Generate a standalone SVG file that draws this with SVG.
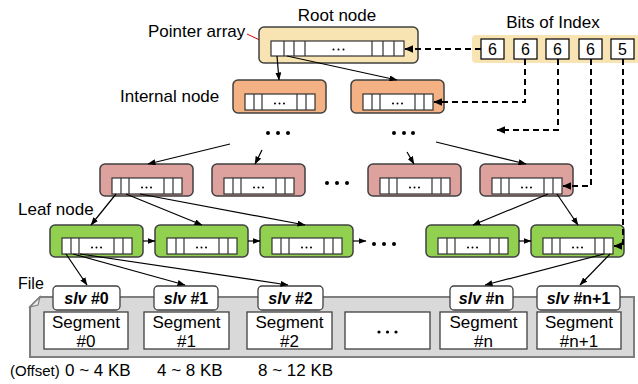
<svg xmlns="http://www.w3.org/2000/svg" xmlns:xlink="http://www.w3.org/1999/xlink" width="638" height="384" viewBox="0 0 638 384">
  <style>
    text { font-family: "Liberation Sans", Arial, sans-serif; fill: #000; }
    .lbl { font-size: 17px; }
    .node { stroke: #404040; stroke-width: 1.5; }
    .root { fill: #f7e4b2; }
    .inner { fill: #f4b183; }
    .mid { fill: #dda19e; }
    .leaf { fill: #92d050; }
    .cell { fill: #fff; stroke: #333; stroke-width: 1.2; }
    .sep { stroke: #333; stroke-width: 1.2; }
    .ptr { stroke: #000; stroke-width: 1.2; fill: none; marker-end: url(#ah); }
    .idx { stroke: #000; stroke-width: 2; fill: none; stroke-dasharray: 6 4; marker-end: url(#ahd); }
    .slv { fill: #fff; stroke: #404040; stroke-width: 1.3; }
    .seg { fill: #fff; stroke: #404040; stroke-width: 1.3; }
    .slvt { font-size: 16px; font-weight: bold; text-anchor: middle; }
    .segt { font-size: 17px; text-anchor: middle; }
  </style>
  <defs>
    <marker id="ah" viewBox="0 0 8 6" refX="7.5" refY="3" markerWidth="8" markerHeight="6" markerUnits="userSpaceOnUse" orient="auto">
      <path d="M0,0 L8,3 L0,6 Z" fill="#000"/>
    </marker>
    <marker id="ahd" viewBox="0 0 8 7" refX="7.5" refY="3.5" markerWidth="9" markerHeight="8" markerUnits="userSpaceOnUse" orient="auto">
      <path d="M0,0 L8,3.5 L0,7 Z" fill="#000"/>
    </marker>
    <marker id="ahr" viewBox="0 0 8 6" refX="7.5" refY="3" markerWidth="7" markerHeight="5" markerUnits="userSpaceOnUse" orient="auto">
      <path d="M0,0 L8,3 L0,6 Z" fill="#e00000"/>
    </marker>
    <!-- pointer array with two slots on each side -->
    <g id="arr2">
      <rect class="cell" x="0" y="0" width="70" height="16"/>
      <path class="sep" d="M9,0V16M17,0V16M52,0V16M61,0V16"/>
      <circle cx="30" cy="9.5" r="1"/>
      <circle cx="34.5" cy="9.5" r="1"/>
      <circle cx="39" cy="9.5" r="1"/>
    </g>
    <!-- wider pointer array with three slots on each side -->
    <g id="arr3">
      <rect class="cell" x="0" y="0" width="133" height="15"/>
      <path class="sep" d="M13,0V15M23,0V15M34,0V15M101,0V15M112,0V15M123,0V15"/>
      <circle cx="62.5" cy="8.5" r="1"/>
      <circle cx="67.5" cy="8.5" r="1"/>
      <circle cx="72.5" cy="8.5" r="1"/>
    </g>
  </defs>

  <!-- labels -->
  <text class="lbl" x="337" y="21" text-anchor="middle">Root node</text>
  <text class="lbl" x="148" y="37">Pointer array</text>
  <path d="M247,34 L268,44" stroke="#e00000" stroke-width="1" fill="none" marker-end="url(#ahr)"/>
  <text class="lbl" x="120" y="102">Internal node</text>
  <text class="lbl" x="18" y="215">Leaf node</text>
  <text x="18" y="289" font-size="16">File</text>

  <!-- index bit fields -->
  <g id="index-bits">
    <rect x="472" y="35" width="172" height="28" rx="4" fill="#f7e4b2"/>
    <text class="lbl" x="553" y="28" text-anchor="middle">Bits of Index</text>
    <g fill="#fff" stroke="#000" stroke-width="1.2">
      <rect x="481" y="39" width="23" height="20"/>
      <rect x="514" y="39" width="23" height="20"/>
      <rect x="546" y="39" width="23" height="20"/>
      <rect x="579" y="39" width="23" height="20"/>
      <rect x="611" y="39" width="23" height="20"/>
    </g>
    <g font-size="16" text-anchor="middle">
      <text x="492.5" y="55">6</text>
      <text x="525.5" y="55">6</text>
      <text x="557.5" y="55">6</text>
      <text x="590.5" y="55">6</text>
      <text x="622.5" y="55">5</text>
    </g>
  </g>

  <!-- tree nodes -->
  <g id="root-node">
    <rect class="node root" x="259" y="27" width="159" height="36" rx="5"/>
    <use xlink:href="#arr3" x="271" y="41"/>
  </g>
  <g id="internal-1">
    <rect class="node inner" x="233" y="80" width="93" height="33" rx="5"/>
    <use xlink:href="#arr2" x="245" y="94"/>
  </g>
  <g id="internal-2">
    <rect class="node inner" x="351" y="80" width="93" height="33" rx="5"/>
    <use xlink:href="#arr2" x="363" y="94"/>
  </g>
  <g id="mid-1">
    <rect class="node mid" x="100" y="164" width="93" height="32" rx="5"/>
    <use xlink:href="#arr2" x="112" y="178"/>
  </g>
  <g id="mid-2">
    <rect class="node mid" x="212" y="164" width="93" height="32" rx="5"/>
    <use xlink:href="#arr2" x="224" y="178"/>
  </g>
  <g id="mid-3">
    <rect class="node mid" x="368" y="164" width="93" height="32" rx="5"/>
    <use xlink:href="#arr2" x="380" y="178"/>
  </g>
  <g id="mid-4">
    <rect class="node mid" x="480" y="164" width="93" height="32" rx="5"/>
    <use xlink:href="#arr2" x="492" y="178"/>
  </g>
  <g id="leaf-1">
    <rect class="node leaf" x="50" y="225" width="93" height="32" rx="5"/>
    <use xlink:href="#arr2" x="62" y="238"/>
  </g>
  <g id="leaf-2">
    <rect class="node leaf" x="155" y="225" width="93" height="32" rx="5"/>
    <use xlink:href="#arr2" x="167" y="238"/>
  </g>
  <g id="leaf-3">
    <rect class="node leaf" x="260" y="225" width="93" height="32" rx="5"/>
    <use xlink:href="#arr2" x="272" y="238"/>
  </g>
  <g id="leaf-4">
    <rect class="node leaf" x="426" y="225" width="93" height="32" rx="5"/>
    <use xlink:href="#arr2" x="438" y="238"/>
  </g>
  <g id="leaf-5">
    <rect class="node leaf" x="531" y="225" width="93" height="32" rx="5"/>
    <use xlink:href="#arr2" x="543" y="238"/>
  </g>

  <!-- elided levels / siblings -->
  <g id="ellipses" fill="#000">
    <circle cx="268" cy="133" r="2"/><circle cx="278" cy="133" r="2"/><circle cx="288" cy="133" r="2"/>
    <circle cx="394" cy="133" r="2"/><circle cx="404" cy="133" r="2"/><circle cx="413" cy="133" r="2"/>
    <circle cx="327" cy="183" r="2"/><circle cx="337" cy="183" r="2"/><circle cx="347" cy="183" r="2"/>
    <circle cx="374" cy="244" r="2"/><circle cx="384" cy="244" r="2"/><circle cx="394" cy="244" r="2"/>
  </g>

  <!-- file with segments -->
  <g id="file">
    <path d="M40,297 H634 V357 H30 V307 Z" fill="#d9d9d9" stroke="#7f7f7f" stroke-width="2"/>
    <path d="M30,307 L40,297 L38,305 Z" fill="#efefef" stroke="#7f7f7f" stroke-width="1.2"/>
  </g>
  <g id="slv-0"><rect class="slv" x="53" y="286" width="67" height="24" rx="4"/><text class="slvt" x="86.5" y="304"><tspan font-style="italic">slv</tspan> #0</text></g>
  <g id="slv-1"><rect class="slv" x="154" y="286" width="64" height="24" rx="4"/><text class="slvt" x="186" y="304"><tspan font-style="italic">slv</tspan> #1</text></g>
  <g id="slv-2"><rect class="slv" x="258" y="286" width="65" height="24" rx="4"/><text class="slvt" x="290.5" y="304"><tspan font-style="italic">slv</tspan> #2</text></g>
  <g id="slv-n"><rect class="slv" x="450" y="286" width="63" height="24" rx="4"/><text class="slvt" x="481.5" y="304"><tspan font-style="italic">slv</tspan> #n</text></g>
  <g id="slv-n1"><rect class="slv" x="537" y="286" width="83" height="24" rx="4"/><text class="slvt" x="578.5" y="304"><tspan font-style="italic">slv</tspan> #n+1</text></g>

  <g id="seg-0"><rect class="seg" x="44" y="312" width="84" height="37"/><text class="segt" x="86" y="328">Segment</text><text class="segt" x="86" y="347">#0</text></g>
  <g id="seg-1"><rect class="seg" x="144" y="312" width="85" height="37"/><text class="segt" x="186.5" y="328">Segment</text><text class="segt" x="186.5" y="347">#1</text></g>
  <g id="seg-2"><rect class="seg" x="247" y="312" width="85" height="37"/><text class="segt" x="289.5" y="328">Segment</text><text class="segt" x="289.5" y="347">#2</text></g>
  <g id="seg-gap"><rect class="seg" x="345" y="312" width="85" height="37"/><circle cx="379" cy="332" r="1.6"/><circle cx="387.5" cy="332" r="1.6"/><circle cx="396" cy="332" r="1.6"/></g>
  <g id="seg-n"><rect class="seg" x="440" y="312" width="87" height="37"/><text class="segt" x="483.5" y="328">Segment</text><text class="segt" x="483.5" y="347">#n</text></g>
  <g id="seg-n1"><rect class="seg" x="537" y="312" width="84" height="37"/><text class="segt" x="579" y="328">Segment</text><text class="segt" x="579" y="347">#n+1</text></g>

  <!-- offsets -->
  <text x="10" y="376" font-size="15">(Offset)</text>
  <text class="lbl" x="65" y="376">0 ~ 4 KB</text>
  <text class="lbl" x="157" y="376">4 ~ 8 KB</text>
  <text class="lbl" x="258" y="376">8 ~ 12 KB</text>

  <!-- connectors -->
  <g id="connectors">
    <path class="ptr" d="M277,56 L279,80"/>
    <path class="ptr" d="M287,56 L397,80"/>
    <path class="ptr" d="M230,144 L148,164"/>
    <path class="ptr" d="M262,150 L255,164"/>
    <path class="ptr" d="M407,152 L414,164"/>
    <path class="ptr" d="M436,142 L526,164"/>
    <path class="ptr" d="M116,194 L91,225"/>
    <path class="ptr" d="M126,194 L202,225"/>
    <path class="ptr" d="M140,194 L305,225"/>
    <path class="ptr" d="M548,194 L473,225"/>
    <path class="ptr" d="M557,194 L578,225"/>
    <path class="ptr" d="M143,241 H155"/>
    <path class="ptr" d="M248,241 H260"/>
    <path class="ptr" d="M353,241 H366"/>
    <path class="ptr" d="M519,241 H531"/>
    <path class="ptr" d="M66,254 L87,285"/>
    <path class="ptr" d="M73,254 L185,285"/>
    <path class="ptr" d="M80,254 L288,285"/>
    <path class="ptr" d="M604,254 L485,285"/>
    <path class="ptr" d="M610,254 L580,285"/>
    <!-- index bits selecting the slot at each level -->
    <path class="idx" d="M481,49 H405"/>
    <path class="idx" d="M525,59 V102 H434"/>
    <path class="idx" d="M558,59 V130 H497"/>
    <path class="idx" d="M591,59 V186 H563"/>
    <path class="idx" d="M623,59 V246 H614"/>
  </g>
</svg>
